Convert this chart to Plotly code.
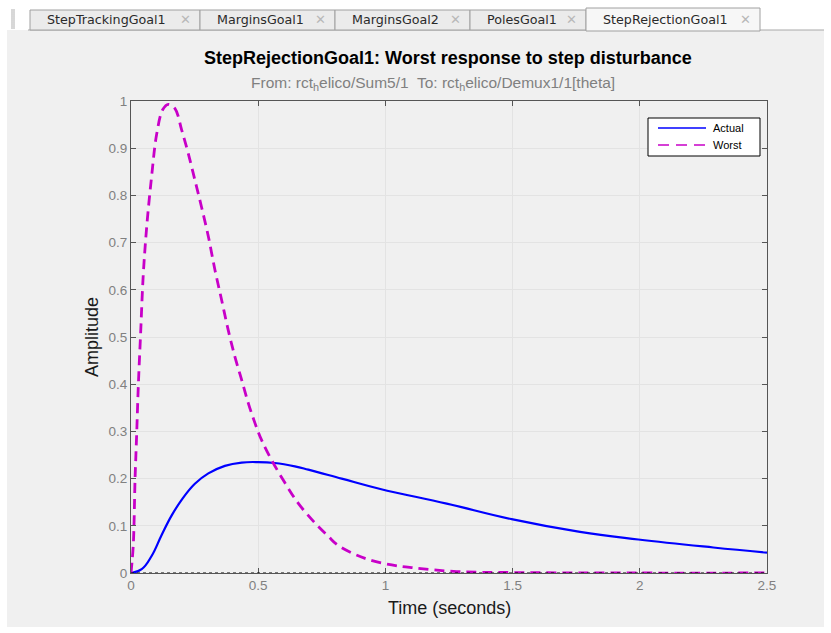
import plotly.graph_objects as go

# ---- data ----
t_actual = [0, 0.042, 0.081, 0.120, 0.160, 0.199, 0.251, 0.304, 0.369, 0.435, 0.5, 0.565,
            0.644, 0.697, 0.828, 0.98, 1.241, 1.496, 1.765, 1.994, 2.289, 2.5]
y_actual = [0, 0.008, 0.036, 0.080, 0.122, 0.155, 0.189, 0.211, 0.227, 0.234, 0.235, 0.233,
            0.226, 0.219, 0.200, 0.178, 0.147, 0.114, 0.087, 0.071, 0.054, 0.043]

t_worst = [0, 0.009, 0.016, 0.022, 0.029, 0.038, 0.048, 0.062, 0.081, 0.101, 0.125, 0.147,
           0.173, 0.199, 0.225, 0.251, 0.277, 0.304, 0.330, 0.356, 0.382, 0.408, 0.435,
           0.461, 0.487, 0.513, 0.552, 0.605, 0.657, 0.723, 0.775, 0.815, 0.92, 1.025,
           1.11, 1.28, 1.5, 2.0, 2.5]
y_worst = [0, 0.06, 0.2, 0.29, 0.40, 0.51, 0.63, 0.735, 0.84, 0.93, 0.982, 0.993,
           0.984, 0.939, 0.889, 0.833, 0.776, 0.713, 0.642, 0.579, 0.515, 0.459, 0.409,
           0.360, 0.318, 0.282, 0.240, 0.191, 0.148, 0.106, 0.078, 0.058, 0.031, 0.017,
           0.011, 0.003, 0.001, 0.0, 0.0]

x_ticks = [0, 0.5, 1, 1.5, 2, 2.5]
x_ticklabels = ["0", "0.5", "1", "1.5", "2", "2.5"]
y_ticks = [0, 0.1, 0.2, 0.3, 0.4, 0.5, 0.6, 0.7, 0.8, 0.9, 1]
y_ticklabels = ["0", "0.1", "0.2", "0.3", "0.4", "0.5", "0.6", "0.7", "0.8", "0.9", "1"]

tab_names = ["StepTrackingGoal1", "MarginsGoal1", "MarginsGoal2", "PolesGoal1", "StepRejectionGoal1"]
series_names = ["Actual", "Worst"]

title_text = "StepRejectionGoal1: Worst response to step disturbance"
subtitle_text = "From: rct<sub>h</sub>elico/Sum5/1  To: rct<sub>h</sub>elico/Demux1/1[theta]"

# ---- layout geometry (pixels) ----
W, H = 831, 633
L, R, T, B = 131, 767, 101, 573


def px(x):
    return (x - L) / (R - L)


def py(y):
    return (B - y) / (B - T)


BLUE = "#0000ff"
MAGENTA = "#c800c8"

fig = go.Figure()
fig.add_trace(go.Scatter(x=t_actual, y=y_actual, mode="lines", name=series_names[0],
                         showlegend=False,
                         line=dict(color=BLUE, width=2.2, shape="spline", smoothing=1.2)))
fig.add_trace(go.Scatter(x=t_worst, y=y_worst, mode="lines", name=series_names[1],
                         showlegend=False,
                         line=dict(color=MAGENTA, width=2.8, dash="10px,6px",
                                   shape="spline", smoothing=1.0)))

shapes = []
annotations = []

# gray panel
shapes.append(dict(type="rect", xref="paper", yref="paper", layer="below",
                   x0=px(7), x1=px(824), y0=py(30), y1=py(627),
                   fillcolor="#f0f0f0", line=dict(width=0)))
# tab bar base line
shapes.append(dict(type="line", xref="paper", yref="paper",
                   x0=px(28), x1=px(824), y0=py(30), y1=py(30),
                   line=dict(color="#a8a8a8", width=1)))
# grip
for gy in range(10, 29, 2):
    shapes.append(dict(type="line", xref="paper", yref="paper",
                       x0=px(11), x1=px(15), y0=py(gy), y1=py(gy),
                       line=dict(color="#b0b0b0", width=1)))

tab_edges = [(30, 200), (200, 335), (335, 470), (470, 586), (586, 760)]
for i, (name, (a, b)) in enumerate(zip(tab_names, tab_edges)):
    active = i == len(tab_names) - 1
    top = 8 if active else 10
    shapes.append(dict(type="rect", xref="paper", yref="paper",
                       x0=px(a), x1=px(b), y0=py(31 if active else 30), y1=py(top),
                       fillcolor="#f7f7f7" if active else "#ebebeb",
                       line=dict(color="#a0a0a0", width=1)))
    annotations.append(dict(text=name, xref="paper", yref="paper",
                            x=px(a + 15), y=py(19.5), xanchor="left", yanchor="middle",
                            showarrow=False,
                            font=dict(family="DejaVu Sans", size=12.7, color="#2a2a2a")))
    annotations.append(dict(text="✕", xref="paper", yref="paper",
                            x=px(b - 15), y=py(19.5), xanchor="center", yanchor="middle",
                            showarrow=False,
                            font=dict(family="DejaVu Sans", size=13, color="#b8b8b8")))

# zero reference line (dotted)
shapes.append(dict(type="line", xref="x", yref="y", x0=0, x1=2.5, y0=0, y1=0,
                   line=dict(color="#000000", width=1, dash="dot")))

# legend box (custom, to match the compact MATLAB legend)
shapes.append(dict(type="rect", xref="paper", yref="paper",
                   x0=px(648), x1=px(760), y0=py(156), y1=py(118),
                   fillcolor="#ffffff", line=dict(color="#000000", width=1)))
shapes.append(dict(type="line", xref="paper", yref="paper",
                   x0=px(658), x1=px(706), y0=py(128), y1=py(128),
                   line=dict(color=BLUE, width=1.5)))
shapes.append(dict(type="line", xref="paper", yref="paper",
                   x0=px(658), x1=px(706), y0=py(145), y1=py(145),
                   line=dict(color=MAGENTA, width=1.5, dash="11px,7px")))
annotations.append(dict(text=series_names[0], xref="paper", yref="paper",
                        x=px(711), y=py(128), xanchor="left", yanchor="middle", showarrow=False,
                        font=dict(family="Liberation Sans", size=11, color="#000000")))
annotations.append(dict(text=series_names[1], xref="paper", yref="paper",
                        x=px(711), y=py(145), xanchor="left", yanchor="middle", showarrow=False,
                        font=dict(family="Liberation Sans", size=11, color="#000000")))

# titles
annotations.append(dict(text="<b>" + title_text + "</b>", xref="paper", yref="paper",
                        x=px(448), y=py(58), xanchor="center", yanchor="middle", showarrow=False,
                        font=dict(family="Liberation Sans", size=18, color="#000000")))
annotations.append(dict(text=subtitle_text, xref="paper", yref="paper",
                        x=px(433), y=py(83), xanchor="center", yanchor="middle", showarrow=False,
                        font=dict(family="Liberation Sans", size=15.5, color="#808080")))
annotations.append(dict(text="Time (seconds)", xref="paper", yref="paper",
                        x=px(449), y=py(608), xanchor="center", yanchor="middle", showarrow=False,
                        font=dict(family="Liberation Sans", size=18, color="#1a1a1a")))
annotations.append(dict(text="Amplitude", xref="paper", yref="paper", textangle=-90,
                        x=px(92), y=py(337), xanchor="center", yanchor="middle", showarrow=False,
                        font=dict(family="Liberation Sans", size=18, color="#1a1a1a")))

axis_common = dict(showline=True, linecolor="#555555", linewidth=1, mirror="ticks",
                   ticks="inside", ticklen=5, tickcolor="#555555",
                   showgrid=True, gridcolor="#e3e3e3", gridwidth=1, zeroline=False,
                   tickfont=dict(family="Liberation Sans", size=13.5, color="#808080"))

fig.update_layout(
    width=W, height=H,
    margin=dict(l=L, r=W - R, t=T, b=H - B),
    paper_bgcolor="#ffffff", plot_bgcolor="#ffffff",
    showlegend=False,
    shapes=shapes, annotations=annotations,
    xaxis=dict(range=[0, 2.5], tickvals=x_ticks, ticktext=x_ticklabels, **axis_common),
    yaxis=dict(range=[0, 1], tickvals=y_ticks, ticktext=y_ticklabels, **axis_common),
)

fig.write_html("out.html", config={"displayModeBar": False},
               post_script="document.body.style.margin='0px';")
